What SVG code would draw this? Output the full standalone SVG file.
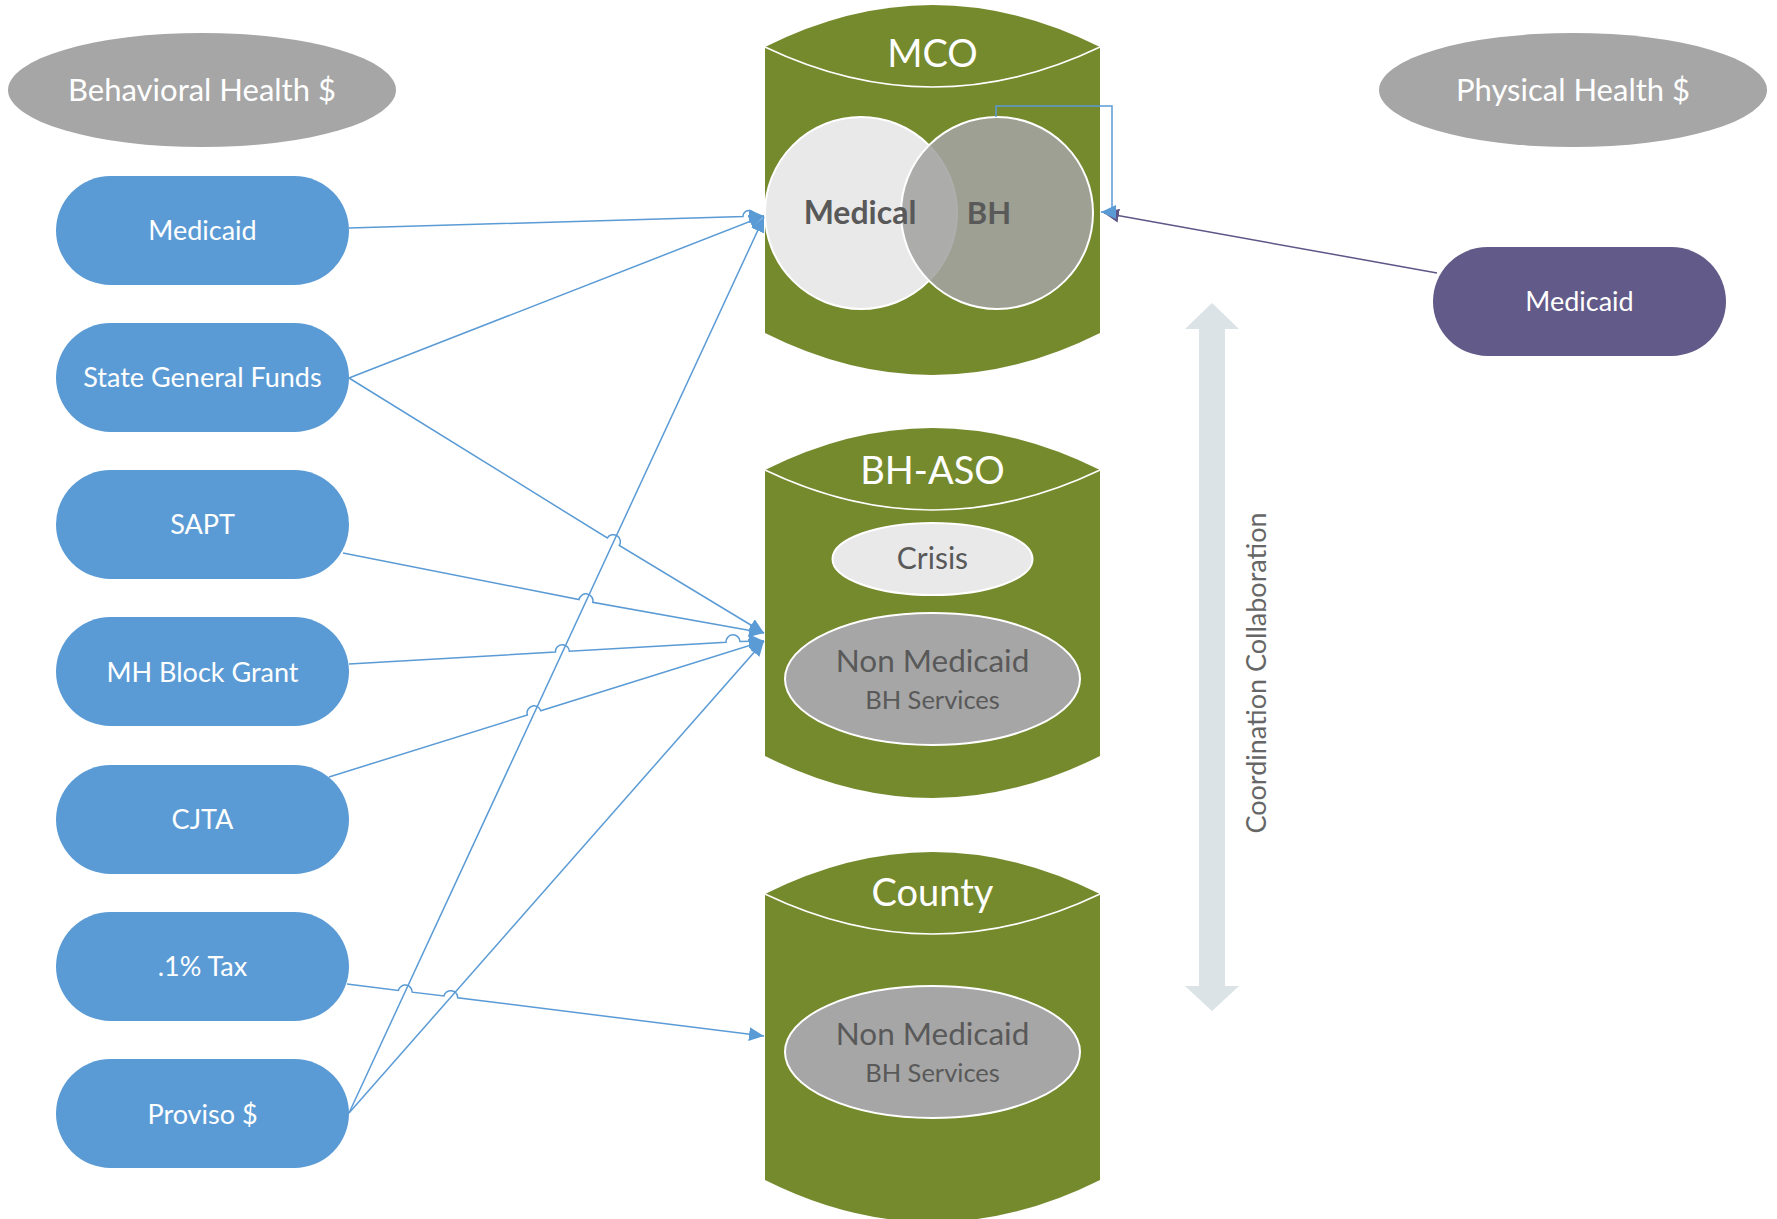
<svg xmlns="http://www.w3.org/2000/svg" width="1777" height="1219" viewBox="0 0 1777 1219">
<style>
text{font-family:Lato,"Open Sans","Liberation Sans",sans-serif;text-anchor:middle}
.hdr{fill:#A6A6A6}
.hdrt{font-size:31px;fill:#FFFFFF}
.pill{fill:#5B9BD5}
.pillp{fill:#625A88}
.pt{font-size:27px;fill:#FFFFFF}
.cyl{fill:#758A2D}
.rim{fill:none;stroke:#FFFFFF;stroke-width:1.6}
.ct{font-size:38px;fill:#FFFFFF}
.inner{stroke:#FFFFFF;stroke-width:2}
.dt{fill:#595959}
.con{fill:none;stroke:#5B9BD5;stroke-width:1.5}
.conp{fill:none;stroke:#5F5587;stroke-width:1.5}
</style>
<defs>
<marker id="ab" markerUnits="userSpaceOnUse" markerWidth="15" markerHeight="14" viewBox="0 0 15 14" refX="15" refY="7" orient="auto"><path d="M0,0 L15,7 L0,14 z" fill="#5B9BD5"/></marker>
<marker id="ap" markerUnits="userSpaceOnUse" markerWidth="15" markerHeight="14" viewBox="0 0 15 14" refX="15" refY="7" orient="auto"><path d="M0,0 L15,7 L0,14 z" fill="#5F5587"/></marker>
</defs>
<rect width="1777" height="1219" fill="#FFFFFF"/>

<g id="hdr-bh"><ellipse class="hdr" cx="202" cy="90" rx="194" ry="57"/><text class="hdrt" x="202" y="101">Behavioral Health $</text></g>
<g id="hdr-ph"><ellipse class="hdr" cx="1573" cy="90" rx="194" ry="57"/><text class="hdrt" x="1573" y="101">Physical Health $</text></g>

<g id="src-medicaid"><rect class="pill" x="56" y="176" width="293" height="109" rx="54.5"/><text class="pt" x="202.5" y="240">Medicaid</text></g>
<g id="src-sgf"><rect class="pill" x="56" y="323" width="293" height="109" rx="54.5"/><text class="pt" x="202.5" y="387">State General Funds</text></g>
<g id="src-sapt"><rect class="pill" x="56" y="470" width="293" height="109" rx="54.5"/><text class="pt" x="202.5" y="534">SAPT</text></g>
<g id="src-mhbg"><rect class="pill" x="56" y="617" width="293" height="109" rx="54.5"/><text class="pt" x="202.5" y="682">MH Block Grant</text></g>
<g id="src-cjta"><rect class="pill" x="56" y="765" width="293" height="109" rx="54.5"/><text class="pt" x="202.5" y="829">CJTA</text></g>
<g id="src-tax"><rect class="pill" x="56" y="912" width="293" height="109" rx="54.5"/><text class="pt" x="202.5" y="976">.1% Tax</text></g>
<g id="src-proviso"><rect class="pill" x="56" y="1059" width="293" height="109" rx="54.5"/><text class="pt" x="202.5" y="1124">Proviso $</text></g>

<g id="src-ph-medicaid"><rect class="pillp" x="1433" y="247" width="293" height="109" rx="54.5"/><text class="pt" x="1579.5" y="311">Medicaid</text></g>

<g id="coord">
<polygon points="1212,303 1239,329 1225,329 1225,986 1239,986 1212,1011 1185,986 1199,986 1199,329 1185,329" fill="#DBE3E7"/>
<text transform="translate(1266,673) rotate(-90)" x="0" y="0" style="font-size:27px;fill:#666666">Coordination Collaboration</text>
</g>

<g id="mco">
<path class="cyl" d="M765,47 Q932.5,-37 1100,47 L1100,333 Q932.5,417 765,333 Z"/>
<path class="rim" d="M765,47 Q932.5,127 1100,47"/>
<text class="ct" x="932.5" y="67">MCO</text>
<circle class="inner" cx="861" cy="213" r="96" fill="#E9E9E9"/>
<circle class="inner" cx="997" cy="213" r="96" fill="#A3A3A0" fill-opacity="0.88"/>
<text class="dt" x="860" y="224" style="font-size:32px;font-weight:bold">Medical</text>
<text class="dt" x="989" y="224" style="font-size:31px;font-weight:bold">BH</text>
</g>

<g id="bhaso">
<path class="cyl" d="M765,470 Q932.5,386 1100,470 L1100,756 Q932.5,840 765,756 Z"/>
<path class="rim" d="M765,470 Q932.5,550 1100,470"/>
<text class="ct" x="932.5" y="484">BH-ASO</text>
<ellipse class="inner" cx="932.5" cy="559" rx="100" ry="36" fill="#E9E9E9"/>
<text class="dt" x="932.5" y="569" style="font-size:30px">Crisis</text>
<ellipse class="inner" cx="932.5" cy="679" rx="147.5" ry="66" fill="#A6A6A6"/>
<text class="dt" x="932.5" y="672" style="font-size:31.5px">Non Medicaid</text>
<text class="dt" x="932.5" y="709" style="font-size:25.5px">BH Services</text>
</g>

<g id="county">
<path class="cyl" d="M765,894 Q932.5,810 1100,894 L1100,1180 Q932.5,1264 765,1180 Z"/>
<path class="rim" d="M765,894 Q932.5,974 1100,894"/>
<text class="ct" x="932.5" y="906">County</text>
<ellipse class="inner" cx="932.5" cy="1052" rx="147.5" ry="66" fill="#A6A6A6"/>
<text class="dt" x="932.5" y="1045" style="font-size:31.5px">Non Medicaid</text>
<text class="dt" x="932.5" y="1082" style="font-size:25.5px">BH Services</text>
</g>

<g id="connectors">
<path class="con" d="M349,1113 L764,217" marker-end="url(#ab)"/>
<path class="con" d="M349,1113 L764,641" marker-end="url(#ab)"/>
<path class="con" d="M349,228 L743,216.6 A6,6 0 0 1 755,216.2 L764,216" marker-end="url(#ab)"/>
<path class="con" d="M349,378 L764,216" marker-end="url(#ab)"/>
<path class="con" d="M349,378 L607.3,538 A7,7 0 0 1 619.3,545.4 L764,633" marker-end="url(#ab)"/>
<path class="con" d="M343,553 L579,599.5 A7,7 0 0 1 592.8,602.3 L764,633" marker-end="url(#ab)"/>
<path class="con" d="M349,664 L555.4,652.1 A7,7 0 0 1 569.4,651.3 L726,642.2 A7,7 0 0 1 740,641.4 L764,641" marker-end="url(#ab)"/>
<path class="con" d="M329,777 L527.4,715 A7,7 0 0 1 540.8,710.8 L764,641" marker-end="url(#ab)"/>
<path class="con" d="M347,984 L398.4,990.4 A7,7 0 0 1 412.2,992.2 L443.9,996 A7,7 0 0 1 457.7,997.8 L764,1036" marker-end="url(#ab)"/>
<path class="conp" d="M1437,273 L1104,213" marker-end="url(#ap)"/>
<path class="con" d="M996,117 V106 H1112 V212 H1101" marker-end="url(#ab)"/>
</g>
</svg>
